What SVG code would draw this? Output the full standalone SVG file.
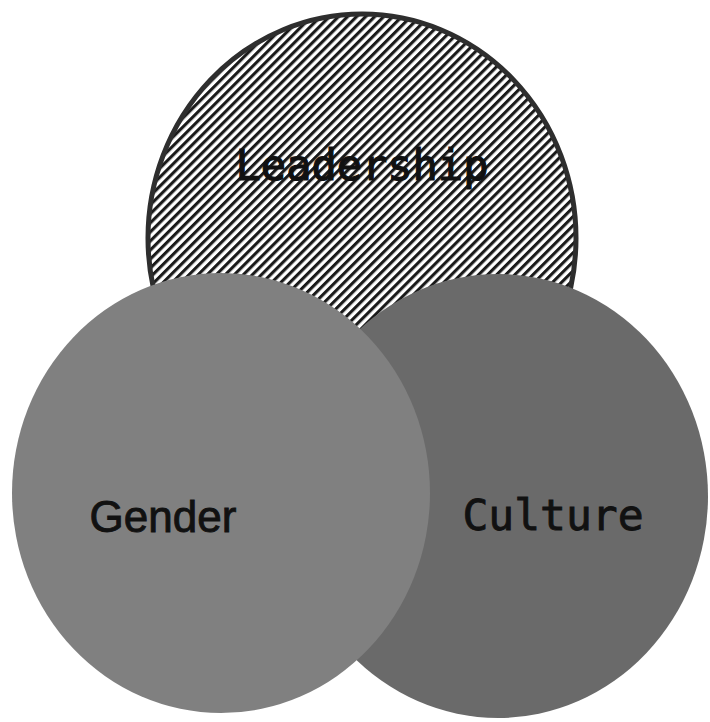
<svg xmlns="http://www.w3.org/2000/svg" width="710" height="722" viewBox="0 0 710 722">
<defs>
<pattern id="hatch" width="6.4" height="6.4" patternUnits="userSpaceOnUse" patternTransform="rotate(45)">
<rect width="6.4" height="6.4" fill="#ffffff"/>
<rect x="0" y="0" width="3.1" height="6.4" fill="#1a1a1a"/>
</pattern>
</defs>
<style>
.mono{font-family:"DejaVu Sans Mono","Liberation Mono",monospace;fill:#111;stroke:#111}
.sans{font-family:"Liberation Sans",Arial,sans-serif;fill:#111;stroke:#111;stroke-width:0.9}
</style>
<rect width="710" height="722" fill="#ffffff"/>
<g id="leadership">
<ellipse cx="362" cy="238" rx="214" ry="224" fill="url(#hatch)" stroke="#2e2e2e" stroke-width="5"/>
<text class="mono" x="362" y="180" font-size="42" text-anchor="middle" stroke-width="1.2">Leadership</text>
</g>
<g id="culture">
<ellipse cx="498" cy="496" rx="210" ry="222" fill="#6a6a6a"/>
<text class="mono" x="553" y="530" font-size="43" text-anchor="middle" stroke-width="0.9">Culture</text>
</g>
<g id="gender">
<ellipse cx="221" cy="493" rx="209" ry="220" fill="#808080"/>
<text class="sans" x="163" y="532" font-size="44" text-anchor="middle">Gender</text>
</g>
<g id="connectors"/>
</svg>
